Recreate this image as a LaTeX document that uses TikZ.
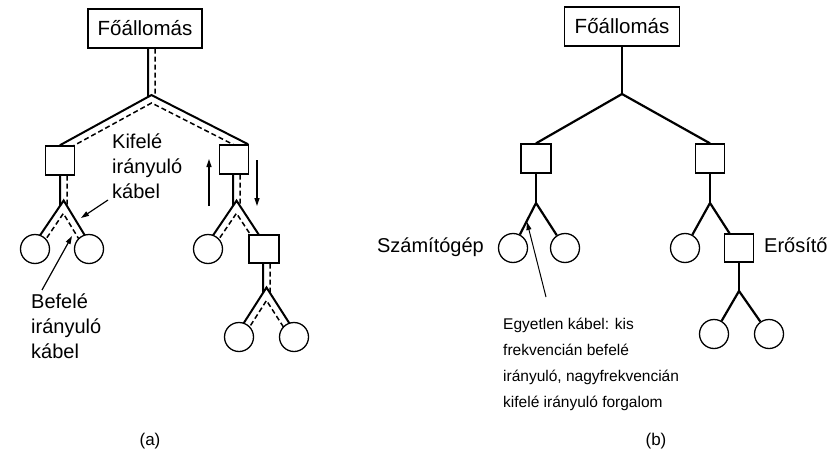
\documentclass[tikz,border=0pt]{standalone}
\usepackage{fontspec}
\setmainfont{Liberation Sans}
\usetikzlibrary{calc,arrows.meta}
\pgfdeclarelayer{cables}
\pgfsetlayers{cables,main}

% Double cable Y: #1 anchor above the trunk, #2 junction, #3 left end, #4 right end.
% Solid line on the outer side, dashed line on the inner side.
\newcommand\ycable[4]{%
  \coordinate (yc-l1) at ($(#2)!3.5pt!-90:(#3)$);
  \coordinate (yc-l2) at ($(#3)!3.5pt!90:(#2)$);
  \coordinate (yc-r1) at ($(#2)!3.5pt!90:(#4)$);
  \coordinate (yc-r2) at ($(#4)!3.5pt!-90:(#2)$);
  \coordinate (yc-li1) at ($(#2)!3.5pt!90:(#3)$);
  \coordinate (yc-li2) at ($(#3)!3.5pt!-90:(#2)$);
  \coordinate (yc-ri1) at ($(#2)!3.5pt!-90:(#4)$);
  \coordinate (yc-ri2) at ($(#4)!3.5pt!90:(#2)$);
  \coordinate (yc-tl) at ($(#2 |- #1)+(-3.5,0)$);
  \coordinate (yc-bl) at ($(#2)+(-3.5,0)$);
  \coordinate (yc-tr) at ($(#2 |- #1)+(3.5,0)$);
  \coordinate (yc-br) at ($(#2)+(3.5,0)$);
  \draw[cab] (yc-l2) -- (intersection of yc-l1--yc-l2 and yc-r1--yc-r2) -- (yc-r2);
  \draw[cab] (yc-tl) -- (intersection of yc-tl--yc-bl and yc-l1--yc-l2);
  \draw[dcab] (yc-tr) -- (intersection of yc-tr--yc-br and yc-r1--yc-r2);
  \draw[dcab] (yc-li2) -- (intersection of yc-li1--yc-li2 and yc-ri1--yc-ri2) -- (yc-ri2);
}

\begin{document}
\begin{tikzpicture}[x=1pt,y=-1pt,
  box/.style={draw,line width=1.3pt,fill=white,minimum width=29pt,minimum height=29pt,inner sep=0pt},
  host/.style={draw,circle,line width=1.3pt,fill=white,minimum size=29pt,inner sep=0pt},
  head/.style={draw,line width=1.3pt,fill=white,minimum width=114pt,minimum height=39pt,inner sep=0pt,
    font=\fontsize{20.5}{24}\selectfont},
  wire/.style={line width=2.2pt,line join=miter},
  cab/.style={line width=2pt,line join=miter},
  dcab/.style={line width=1.5pt,dash pattern=on 5pt off 3pt},
  lbl/.style={font=\fontsize{20}{25}\selectfont,align=left,inner sep=0pt},
  note/.style={font=\fontsize{15.5}{26}\selectfont,align=left,inner sep=0pt},
  captext/.style={font=\fontsize{17}{20}\selectfont,inner sep=0pt},
  ptr/.style={line width=1.2pt,-{Triangle[length=8pt,width=5pt]}},
]
\begin{pgfonlayer}{cables}
  \path[use as bounding box,fill=white] (0,0) rectangle (840,452);
\end{pgfonlayer}

% ---------------- (a) two separate cables ----------------
\node[head] (fa) at (145,28.5) {Főállomás};
\node[box] (aL) at (60,160.5) {};
\node[box] (aR) at (234,159.5) {};
\node[host] (a1) at (35,249) {};
\node[host] (a2) at (89,249) {};
\node[host] (a3) at (208,249) {};
\node[box,minimum width=30pt,minimum height=28pt] (aS) at (264,249) {};
\node[host] (a4) at (239,337) {};
\node[host] (a5) at (294,337) {};

\coordinate (ja0) at (151.5,99);
\coordinate (ja1) at (63.5,207);
\coordinate (ja2) at (236.5,207);
\coordinate (ja3) at (266.5,294);
\coordinate (aLt) at ($(aL.north)+(1.5,3)$);
\coordinate (aRt) at ($(aR.north)+(12.5,3)$);

\begin{pgfonlayer}{cables}
  \ycable{fa.south}{ja0}{aLt}{aRt}
  \ycable{aL.south}{ja1}{a1}{a2}
  \ycable{aR.south}{ja2}{a3}{aS}
  \ycable{aS.south}{ja3}{a4}{a5}
\end{pgfonlayer}

% traffic direction arrows
\coordinate (upA) at (209,206);
\coordinate (upB) at (209,159);
\coordinate (dnA) at (257,160);
\coordinate (dnB) at (257,206);
\draw[ptr] (upA) -- (upB);
\draw[ptr] (dnA) -- (dnB);

\node[lbl,anchor=north west] (kif) at (112,134) {Kifelé\\irányuló\\kábel};
\node[lbl,anchor=north west] (bef) at (31,294) {Befelé\\irányuló\\kábel};
\coordinate (kifP) at (108,200);
\coordinate (kifQ) at (81,218);
\coordinate (befP) at (42,290);
\coordinate (befQ) at (72,236);
\draw[ptr] (kifP) -- (kifQ);
\draw[ptr] (befP) -- (befQ);

\node[captext,anchor=base] (capa) at (150,445) {(a)};

% ---------------- (b) one shared cable ----------------
\node[head,minimum width=115pt] (fb) at (622,26.5) {Főállomás};
\node[box,minimum width=30pt] (bL) at (536,158.5) {};
\node[box] (bR) at (710,158.5) {};
\node[host] (b1) at (513,248) {};
\node[host] (b2) at (565,248) {};
\node[host] (b3) at (685,248) {};
\node[box,minimum height=28pt] (bS) at (739,248) {};
\node[host] (b4) at (714,334) {};
\node[host] (b5) at (769,334) {};

\coordinate (jb0) at (622,94);
\coordinate (jb1) at (536,203);
\coordinate (jb2) at (710,203);
\coordinate (jb3) at (739,291);

\begin{pgfonlayer}{cables}
  \draw[wire] (fb) -- (jb0);
  \draw[wire] (bL.north) -- (jb0) -- (bR.north);
  \draw[wire] (bL) -- (jb1);
  \draw[wire] (b1) -- (jb1) -- (b2);
  \draw[wire] (bR) -- (jb2);
  \draw[wire] (b3) -- (jb2) -- (bS);
  \draw[wire] (bS) -- (jb3);
  \draw[wire] (b4) -- (jb3) -- (b5);
\end{pgfonlayer}

\node[lbl,anchor=base east] (pc) at (484,252) {Számítógép};
\node[lbl,anchor=base west] (amp) at (764,252) {Erősítő};
\node[note,anchor=north west] (egy) at (503,318)
  {Egyetlen kábel: kis\\frekvencián befelé\\irányuló, nagyfrekvencián\\kifelé irányuló forgalom};
\coordinate (egyP) at (546,297);
\coordinate (egyQ) at (527,222);
\draw[ptr,line width=1pt] (egyP) -- (egyQ);

\node[captext,anchor=base] (capb) at (656,445) {(b)};
\end{tikzpicture}
\end{document}
